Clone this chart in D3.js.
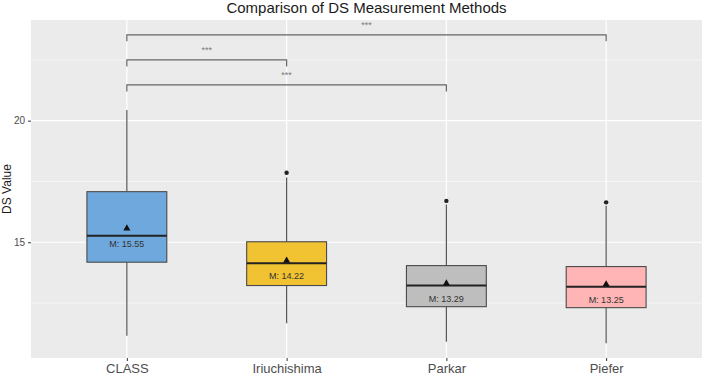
<!DOCTYPE html>
<html>
<head>
<meta charset="utf-8">
<script src="https://cdn.jsdelivr.net/npm/d3@7"></script>
<style>
  body { margin: 0; background: #fff; }
  svg { display: block; font-family: "Liberation Sans", Arial, sans-serif; }
</style>
</head>
<body>
<div id="chart"></div>
<script>
// datos
const categories = ['CLASS', 'Iriuchishima', 'Parkar', 'Piefer'];
const whiskerLow = [11.15, 11.67, 10.91, 10.85];
const q1 = [14.18, 13.22, 12.35, 12.31];
const medians = [15.27, 14.14, 13.22, 13.17];
const q3 = [17.08, 15.02, 14.04, 14.0];
const whiskerHigh = [20.44, 17.66, 16.55, 16.5];
const means = [15.55, 14.22, 13.29, 13.25];
const outliers = [[], [17.86], [16.70], [16.64]];
const fills = ['#6fa8dc', '#f1c232', '#bebebe', '#ffb5b5'];
const yTicks = [15, 20];
const yMinor = [12.5, 17.5, 22.5];

// comparaciones (grupo a, grupo b, altura del corchete)
const compA = ['CLASS', 'CLASS', 'CLASS'];
const compB = ['Piefer', 'Iriuchishima', 'Parkar'];
const compY = [23.53, 22.5, 21.47];
const compLabel = ['***', '***', '***'];

const width = 702, height = 378;
const margin = { top: 20, right: 0, bottom: 20, left: 31 };

const svg = d3.select('#chart').append('svg')
    .attr('width', width)
    .attr('height', height);

// en ggplot la expansion es 0.6 en cada lado: escala lineal sobre indices
const xi = d3.scaleLinear().domain([0.4, 4.6]).range([margin.left, width - margin.right]);
const cx = c => xi(categories.indexOf(c) + 1);
const boxW = xi(1.25) - xi(1);

const y = d3.scaleLinear()
    .domain([10.24, 24.14])
    .range([height - margin.bottom, margin.top]);

// panel
svg.append('rect')
    .attr('x', margin.left).attr('y', margin.top)
    .attr('width', width - margin.left - margin.right)
    .attr('height', height - margin.top - margin.bottom)
    .attr('fill', '#ebebeb');

// rejilla
svg.selectAll('.minor').data(yMinor).enter().append('line')
    .attr('x1', margin.left).attr('x2', width - margin.right)
    .attr('y1', d => y(d)).attr('y2', d => y(d))
    .attr('stroke', '#fff').attr('stroke-width', 0.6);
svg.selectAll('.major').data(yTicks).enter().append('line')
    .attr('x1', margin.left).attr('x2', width - margin.right)
    .attr('y1', d => y(d)).attr('y2', d => y(d))
    .attr('stroke', '#fff').attr('stroke-width', 1.2);
svg.selectAll('.vgrid').data(categories).enter().append('line')
    .attr('x1', d => cx(d)).attr('x2', d => cx(d))
    .attr('y1', margin.top).attr('y2', height - margin.bottom)
    .attr('stroke', '#fff').attr('stroke-width', 1.2);

// ejes
const yAxis = svg.append('g')
    .attr('transform', `translate(${margin.left},0)`)
    .call(d3.axisLeft(y).tickValues(yTicks).tickSize(3).tickPadding(3));
yAxis.select('.domain').remove();
yAxis.selectAll('line').attr('stroke', '#333');
yAxis.selectAll('text').attr('fill', '#4d4d4d').attr('font-size', 10);

const xAxis = svg.append('g')
    .attr('transform', `translate(0,${height - margin.bottom})`)
    .call(d3.axisBottom(xi).tickValues([1, 2, 3, 4]).tickFormat(i => categories[i - 1]).tickSize(3).tickPadding(3));
xAxis.select('.domain').remove();
xAxis.selectAll('line').attr('stroke', '#333');
xAxis.selectAll('text').attr('fill', '#4d4d4d').attr('font-size', 13);

// cajas
const g = svg.append('g');
categories.forEach((c, i) => {
    const xc = cx(c);
    g.append('line')
        .attr('x1', xc).attr('x2', xc)
        .attr('y1', y(whiskerLow[i])).attr('y2', y(q1[i]))
        .attr('stroke', '#555').attr('stroke-width', 1.2);
    g.append('line')
        .attr('x1', xc).attr('x2', xc)
        .attr('y1', y(q3[i])).attr('y2', y(whiskerHigh[i]))
        .attr('stroke', '#555').attr('stroke-width', 1.2);
    g.append('rect')
        .attr('x', xc - boxW).attr('width', boxW * 2)
        .attr('y', y(q3[i])).attr('height', y(q1[i]) - y(q3[i]))
        .attr('fill', fills[i])
        .attr('stroke', '#4a4a4a').attr('stroke-width', 1.1);
    g.append('line')
        .attr('x1', xc - boxW).attr('x2', xc + boxW)
        .attr('y1', y(medians[i])).attr('y2', y(medians[i]))
        .attr('stroke', '#222').attr('stroke-width', 2);
    outliers[i].forEach(o => {
        g.append('circle')
            .attr('cx', xc).attr('cy', y(o)).attr('r', 2.2)
            .attr('fill', '#222');
    });
    // media
    g.append('path')
        .attr('d', d3.symbol().type(d3.symbolTriangle).size(22)())
        .attr('transform', `translate(${xc},${y(means[i]) - 0.5})`)
        .attr('fill', '#111');
    g.append('text')
        .attr('x', xc).attr('y', y(means[i]) + 15.5)
        .attr('text-anchor', 'middle')
        .attr('dominant-baseline', 'middle')
        .attr('font-size', 9)
        .attr('fill', '#333')
        .text('M: ' + means[i].toFixed(2));
});

// corchetes de significancia
compA.forEach((a, i) => {
    const x1 = cx(a), x2 = cx(compB[i]), yy = y(compY[i]);
    svg.append('path')
        .attr('d', `M${x1},${yy + 6.5}V${yy}H${x2}V${yy + 6.5}`)
        .attr('fill', 'none')
        .attr('stroke', '#666').attr('stroke-width', 1.2);
    svg.append('text')
        .attr('x', (x1 + x2) / 2).attr('y', yy - 7)
        .attr('text-anchor', 'middle')
        .attr('font-size', 9)
        .attr('fill', '#777')
        .text(compLabel[i]);
});

// titulos
svg.append('text')
    .attr('x', (margin.left + width - margin.right) / 2).attr('y', 13)
    .attr('text-anchor', 'middle')
    .attr('font-size', 15)
    .attr('fill', '#1a1a1a')
    .text('Comparison of DS Measurement Methods');

svg.append('text')
    .attr('transform', `translate(11,${(margin.top + height - margin.bottom) / 2}) rotate(-90)`)
    .attr('text-anchor', 'middle')
    .attr('font-size', 12)
    .attr('fill', '#1a1a1a')
    .text('DS Value');
</script>
</body>
</html>
